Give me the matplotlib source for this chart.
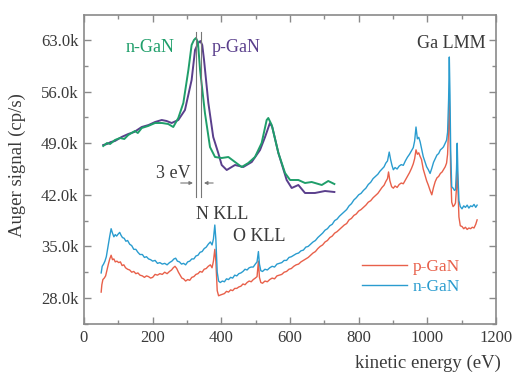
import matplotlib
matplotlib.use("Agg")
import matplotlib.pyplot as plt
from matplotlib.ticker import MultipleLocator, FuncFormatter

plt.rcParams['font.family'] = ['Liberation Serif', 'DejaVu Serif']

# ---------------- main spectra (kinetic energy eV, signal in k cp/s) -------------
n_energy = [50, 53, 57, 61, 65, 70, 75, 79, 83, 87, 91, 95, 100, 104, 108, 112, 117, 122, 127, 133,
            139, 145, 151, 157, 163, 170, 176, 182, 188, 194, 200, 207, 214, 221, 228, 235, 242, 249,
            256, 262, 267, 272, 278, 284, 290, 296, 302, 308, 314, 320, 326, 332, 338, 344, 350, 356,
            362, 368, 373, 377, 381, 384, 388, 392, 397, 403, 409, 415, 421, 427, 433, 439, 445, 451,
            457, 463, 469, 475, 481, 487, 493, 499, 504, 508, 511, 515, 520, 527, 534, 541, 548, 555,
            562, 569, 576, 583, 590, 597, 604, 611, 618, 625, 632, 639, 646, 653, 660, 667, 674, 681,
            688, 695, 702, 709, 716, 723, 730, 737, 744, 751, 758, 765, 772, 779, 786, 793, 800, 807,
            814, 821, 828, 835, 842, 849, 856, 862, 868, 874, 879, 884, 889, 893, 897, 901, 906, 912,
            918, 924, 930, 936, 942, 948, 954, 959, 963, 967, 971, 975, 979, 983, 988, 993, 998, 1003,
            1008, 1013, 1018, 1023, 1028, 1033, 1038, 1043, 1047, 1052, 1056, 1059, 1062, 1064, 1066,
            1068, 1071, 1075, 1079, 1082, 1085, 1087, 1089, 1092, 1096, 1101, 1106, 1111, 1116, 1121,
            1126, 1131, 1136, 1141, 1145]
n_signal = [31.4, 32.3, 32.6, 33.0, 33.6, 35.0, 36.4, 37.4, 36.8, 36.3, 36.6, 36.4, 36.7, 36.9, 36.5,
            36.2, 36.1, 35.7, 35.8, 35.3, 35.1, 34.6, 34.6, 34.2, 33.9, 33.9, 33.5, 33.6, 33.3, 33.2,
            33.0, 33.1, 32.7, 32.8, 32.6, 32.7, 32.5, 32.8, 33.0, 33.3, 33.4, 33.0, 32.9, 32.6, 32.7,
            32.5, 32.9, 33.0, 33.3, 33.3, 33.7, 33.8, 34.2, 34.3, 34.7, 34.9, 35.3, 35.6, 35.2, 36.0,
            37.9, 36.0, 31.5, 30.3, 30.1, 30.3, 30.2, 30.6, 30.5, 30.8, 30.7, 31.1, 31.0, 31.3, 31.4,
            31.6, 31.9, 31.8, 32.1, 32.2, 32.2, 32.6, 32.9, 34.3, 32.6, 31.7, 31.6, 31.9, 31.8, 32.1,
            32.3, 32.2, 32.6, 32.7, 32.8, 33.1, 33.1, 33.5, 33.6, 33.8, 34.0, 34.1, 34.4, 34.5, 34.9,
            35.0, 35.3, 35.6, 35.8, 36.2, 36.5, 36.8, 37.2, 37.4, 37.8, 38.0, 38.5, 38.7, 39.1, 39.4,
            39.7, 40.0, 40.5, 40.8, 41.3, 41.6, 42.0, 42.2, 42.6, 42.9, 43.4, 43.7, 44.2, 44.5, 44.8,
            45.2, 45.5, 45.8, 46.3, 46.6, 47.8, 46.8, 46.0, 45.4, 45.7, 45.5, 45.9, 46.1, 46.0, 46.6,
            47.1, 47.5, 48.0, 48.4, 49.3, 51.2, 49.6, 49.8, 49.2, 48.3, 47.2, 46.5, 45.8, 45.4, 44.9,
            45.6, 46.4, 46.9, 47.4, 47.6, 48.1, 48.3, 48.5, 49.0, 49.4, 50.5, 55.0, 60.7, 55.5, 48.0,
            43.1, 42.9, 42.6, 42.7, 45.5, 49.0, 45.0, 41.2, 40.4, 40.1, 40.5, 40.3, 40.6, 40.2, 40.5,
            40.4, 40.7, 40.3, 40.6]

p_energy = [50, 52, 55, 59, 63, 67, 71, 75, 79, 83, 87, 91, 96, 101, 106, 111, 116, 121, 127, 133,
            139, 145, 151, 157, 163, 170, 176, 182, 188, 194, 200, 207, 214, 221, 228, 235, 242, 249,
            255, 260, 265, 270, 275, 280, 285, 290, 296, 302, 308, 314, 320, 326, 332, 338, 344, 350,
            356, 362, 368, 373, 377, 381, 384, 388, 392, 397, 403, 409, 415, 421, 427, 433, 439, 445,
            451, 457, 463, 469, 475, 481, 487, 493, 499, 504, 508, 511, 515, 520, 527, 534, 541, 548,
            555, 562, 569, 576, 583, 590, 597, 604, 611, 618, 625, 632, 639, 646, 653, 660, 667, 674,
            681, 688, 695, 702, 709, 716, 723, 730, 737, 744, 751, 758, 765, 772, 779, 786, 793, 800,
            807, 814, 821, 828, 835, 842, 849, 856, 862, 868, 874, 879, 884, 887, 891, 896, 901, 906,
            912, 918, 924, 930, 936, 942, 948, 954, 959, 963, 967, 971, 975, 979, 983, 988, 993, 998,
            1003, 1008, 1013, 1018, 1023, 1028, 1033, 1038, 1043, 1047, 1052, 1056, 1059, 1062, 1064,
            1066, 1068, 1071, 1075, 1079, 1082, 1085, 1087, 1089, 1092, 1096, 1101, 1106, 1111, 1116,
            1121, 1126, 1131, 1136, 1141, 1145]
p_signal = [28.8, 29.8, 30.5, 30.7, 31.0, 31.8, 32.6, 33.3, 33.8, 33.2, 33.3, 32.9, 33.0, 32.8, 32.9,
            32.4, 32.5, 32.1, 31.9, 31.8, 31.5, 31.6, 31.3, 31.4, 31.1, 31.0, 30.8, 31.0, 30.9, 30.7,
            30.8, 31.2, 31.1, 31.3, 31.2, 31.5, 31.3, 31.6, 31.8, 32.1, 32.3, 32.0, 31.5, 31.1, 30.7,
            30.6, 30.3, 30.5, 30.4, 30.8, 30.9, 31.2, 31.3, 31.6, 31.5, 31.9, 32.0, 32.3, 32.5, 32.1,
            33.0, 34.6, 33.0, 29.0, 28.3, 28.4, 28.5, 28.6, 28.9, 28.8, 29.1, 29.0, 29.3, 29.3, 29.5,
            29.6, 29.9, 29.8, 30.1, 30.3, 30.2, 30.5, 30.7, 30.9, 33.0, 30.8, 30.1, 30.0, 30.3, 30.2,
            30.5, 30.7, 30.6, 31.0, 31.1, 31.2, 31.5, 31.6, 31.9, 32.0, 32.3, 32.5, 32.6, 32.9, 33.1,
            33.3, 33.5, 33.8, 34.1, 34.3, 34.7, 35.0, 35.2, 35.6, 35.8, 36.2, 36.4, 36.8, 37.0, 37.3,
            37.6, 37.9, 38.1, 38.6, 38.8, 39.2, 39.4, 39.8, 40.0, 40.3, 40.6, 41.0, 41.2, 41.6, 41.9,
            42.2, 42.6, 43.0, 43.3, 43.8, 44.2, 45.1, 43.9, 43.1, 42.9, 43.2, 43.0, 43.4, 43.6, 43.5,
            44.0, 44.5, 45.0, 45.6, 46.2, 46.9, 48.1, 47.5, 47.7, 47.2, 46.8, 45.5, 44.7, 43.9, 43.3,
            42.6, 42.0, 43.0, 43.8, 44.3, 44.5, 44.9, 45.1, 45.4, 45.8, 46.3, 47.5, 51.0, 55.0, 51.0,
            45.0, 41.0, 40.4, 40.6, 40.9, 43.0, 45.8, 43.0, 39.0, 37.8, 37.7, 37.4, 37.6, 37.3, 37.5,
            37.4, 37.6, 37.5, 38.0, 38.6]

# ---------------- inset (relative energy eV, relative intensity a.u.) -------------
inset_n_energy = [1.8, 3.9, 5.6, 8.3, 11.1, 13.5, 15.7, 19.4, 21.0, 23.2, 26.7, 30.6, 34.4, 37.9, 40.7,
                  43.5, 46.3, 49.1, 50.9, 52.2, 53.3, 54.4, 55.6, 58.3, 61.1, 63.9, 67.6, 71.3, 75.0,
                  78.7, 82.4, 86.1, 89.8, 92.6, 93.5, 95.4, 99.1, 102.8, 105.6, 110.2, 113.9, 117.6,
                  123.2, 126.8, 130.2]
inset_n_signal = [54, 57, 56, 60, 62, 61, 65, 69, 67, 72, 74, 77, 77, 76, 73,
                  82, 97, 130, 155, 160, 162, 158, 130, 87, 53, 43, 42, 43, 38,
                  33, 37, 43, 57, 80, 82, 75, 47, 27, 20, 20, 17, 18,
                  15, 19, 16]
inset_p_energy = [1.8, 3.9, 6.0, 8.3, 12.0, 15.7, 19.0, 23.2, 27.0, 30.6, 34.3, 37.0, 39.8, 43.5, 47.2,
                  50.9, 52.8, 54.6, 55.8, 56.8, 57.8, 60.2, 62.9, 65.7, 67.6, 70.4, 75.0, 79.6, 84.3,
                  88.9, 91.7, 94.4, 95.7, 99.1, 103.7, 106.5, 110.2, 113.9, 119.4, 125.0, 130.2]
inset_p_signal = [55, 56, 58, 59, 63, 66, 68, 73, 75, 78, 80, 79, 77, 80, 90,
                  120, 150, 157, 159, 155, 140, 97, 63, 47, 35, 30, 35, 33, 38,
                  50, 63, 77, 73, 47, 20, 12, 15, 7, 7, 9, 8]
shift_left, shift_right = 53.2, 56.2   # 3 eV marker lines

blue = '#2a9ccf'
red = '#e8604a'
green = '#1f9e6a'
purple = '#5a3f8c'
dark = '#3a3a3a'
spine_c = '#8a8a8a'

W, H = 513, 374
fig = plt.figure(figsize=(W / 100, H / 100), dpi=100)
ax = fig.add_axes([84 / W, 1 - 324 / H, (496 - 84) / W, (324 - 15) / H])

ax.plot(p_energy, p_signal, color=red, lw=1.0, label='p-GaN')
ax.plot(n_energy, n_signal, color=blue, lw=1.0, label='n-GaN')

ax.set_xlim(0, 1200)
ax.set_ylim(24.47, 66.4)
ax.xaxis.set_major_locator(MultipleLocator(200))
ax.xaxis.set_minor_locator(MultipleLocator(100))
ax.yaxis.set_major_locator(MultipleLocator(7))
ax.yaxis.set_minor_locator(MultipleLocator(3.5))
ax.yaxis.set_major_formatter(FuncFormatter(lambda v, p: f"{v:.1f}k"))
ax.tick_params(which='both', direction='in', top=True, right=True, color=spine_c,
               labelsize=12, labelcolor=dark, width=1.0)
ax.tick_params(which='major', length=5, pad=4)
ax.tick_params(which='minor', length=3)
for s in ax.spines.values():
    s.set_color(spine_c)
    s.set_linewidth(1.2)

ax.text(1171, 62.6, 'Ga LMM', ha='right', va='center', fontsize=13, color=dark)
ax.text(402, 39.3, 'N KLL', ha='center', va='center', fontsize=13, color=dark)
ax.text(510, 36.3, 'O KLL', ha='center', va='center', fontsize=13, color=dark)

leg = ax.legend(loc='upper left', bbox_to_anchor=(362 / W, 1 - 259 / H),
                bbox_transform=fig.transFigure, frameon=False, fontsize=12.5,
                handlelength=2.6, handletextpad=0.3, labelspacing=0.2,
                borderpad=0, borderaxespad=0, labelcolor='linecolor')

fig.text(428 / W, 1.5 / H, 'kinetic energy (eV)', ha='center', va='bottom',
         fontsize=13.5, color=dark)
fig.text(17 / W, 1 - 165 / H, 'Auger signal (cp/s)', ha='center', va='center',
         rotation=90, fontsize=13.5, color=dark)

# inset
ins = fig.add_axes([100 / W, 1 - 200 / H, 240 / W, 175 / H])
ins.set_xlim(0, 240 / 1.8)
ins.set_ylim(0, 175)
ins.axis('off')
ins.plot(inset_p_energy, inset_p_signal, color=purple, lw=1.4)
ins.plot(inset_n_energy, inset_n_signal, color=green, lw=1.4)
for xv in (shift_left, shift_right):
    ins.plot([xv, xv], [3, 168], color='#777777', lw=0.8)
ins.annotate('', xy=(shift_left, 17), xytext=(43.3, 17),
             arrowprops=dict(arrowstyle='-|>', color='#777777', lw=0.8, mutation_scale=5))
ins.annotate('', xy=(shift_right, 17), xytext=(64.4, 17),
             arrowprops=dict(arrowstyle='-|>', color='#777777', lw=0.8, mutation_scale=5))
ins.text(50.5, 27, '3 eV', ha='right', va='center', fontsize=13, color=dark)
ins.text(14, 152, 'n-GaN', ha='left', va='center', fontsize=13, color=green)
ins.text(62, 152, 'p-GaN', ha='left', va='center', fontsize=13, color=purple)

fig.savefig('out.png', dpi=100)
